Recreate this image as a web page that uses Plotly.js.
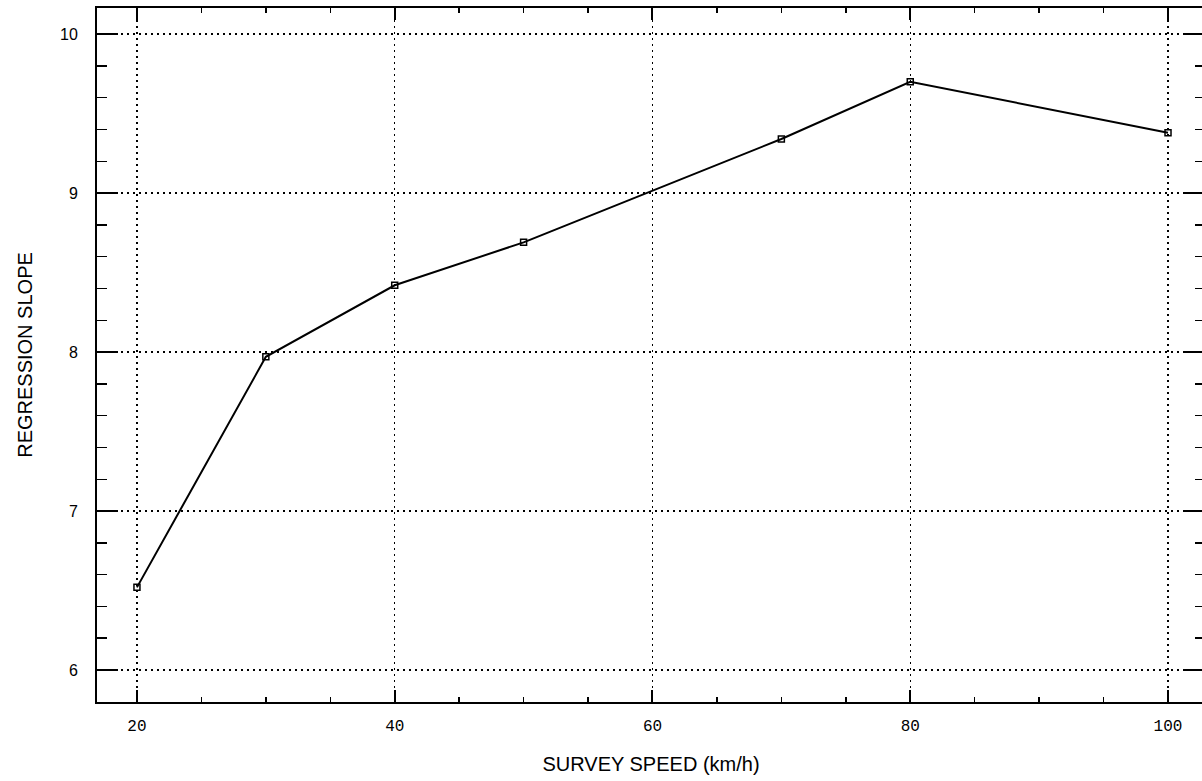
<!DOCTYPE html>
<html>
<head>
<meta charset="utf-8">
<script src="https://cdn.plot.ly/plotly-3.0.1.min.js"></script>
<style>
html,body{margin:0;padding:0;background:#fff;overflow:hidden;}
#chart{width:1210px;height:781px;}
</style>
</head>
<body>
<div id="chart"></div>
<script>
const speeds = [20, 30, 40, 50, 70, 80, 100];
const slopes = [6.52, 7.97, 8.42, 8.69, 9.34, 9.70, 9.38];
const xTickVals = [20, 40, 60, 80, 100];
const yTickVals = [6, 7, 8, 9, 10];
const xTitle = 'SURVEY SPEED (km/h)';
const yTitle = 'REGRESSION SLOPE';

const trace = {
  x: speeds,
  y: slopes,
  mode: 'lines+markers',
  type: 'scatter',
  line: {color: '#000', width: 2},
  marker: {symbol: 'square-open', size: 6, color: '#000', line: {width: 1.5, color: '#000'}},
  hoverinfo: 'x+y'
};

const layout = {
  width: 1210,
  height: 781,
  paper_bgcolor: '#fff',
  plot_bgcolor: '#fff',
  showlegend: false,
  margin: {l: 97, r: 5, t: 8, b: 79},
  xaxis: {
    range: [16.9, 102.87],
    tickmode: 'array',
    tickvals: xTickVals,
    ticktext: xTickVals.map(String),
    ticks: 'inside',
    ticklen: 12,
    tickwidth: 2,
    tickcolor: '#000',
    showline: true,
    linecolor: '#000',
    linewidth: 2,
    mirror: 'allticks',
    showgrid: true,
    gridcolor: '#000',
    gridwidth: 1.5,
    griddash: '2px,4px',
    zeroline: false,
    ticklabelstandoff: 8,
    tickfont: {family: 'Liberation Mono, DejaVu Sans Mono, monospace', size: 16, color: '#000'},
    minor: {dtick: 5, tick0: 0, ticks: 'inside', ticklen: 5, tickwidth: 1.5, tickcolor: '#000', showgrid: false},
    title: {text: xTitle, font: {family: 'Liberation Sans, Arial, sans-serif', size: 20, color: '#000'}, standoff: 22}
  },
  yaxis: {
    range: [5.799, 10.164],
    tickmode: 'array',
    tickvals: yTickVals,
    ticktext: yTickVals.map(String),
    ticks: 'inside',
    ticklen: 21,
    tickwidth: 2,
    tickcolor: '#000',
    showline: true,
    linecolor: '#000',
    linewidth: 2,
    mirror: 'allticks',
    showgrid: true,
    gridcolor: '#000',
    gridwidth: 1.5,
    griddash: '2px,4px',
    zeroline: false,
    ticklabelstandoff: 14,
    tickfont: {family: 'Liberation Sans, Arial, sans-serif', size: 16, color: '#000'},
    minor: {dtick: 0.2, tick0: 0, ticks: 'inside', ticklen: 10, tickwidth: 1.5, tickcolor: '#000', showgrid: false},
    title: {text: yTitle, font: {family: 'Liberation Sans, Arial, sans-serif', size: 20, color: '#000'}, standoff: 22}
  }
};

Plotly.newPlot('chart', [trace], layout, {displayModeBar: false, staticPlot: true});
</script>
</body>
</html>
